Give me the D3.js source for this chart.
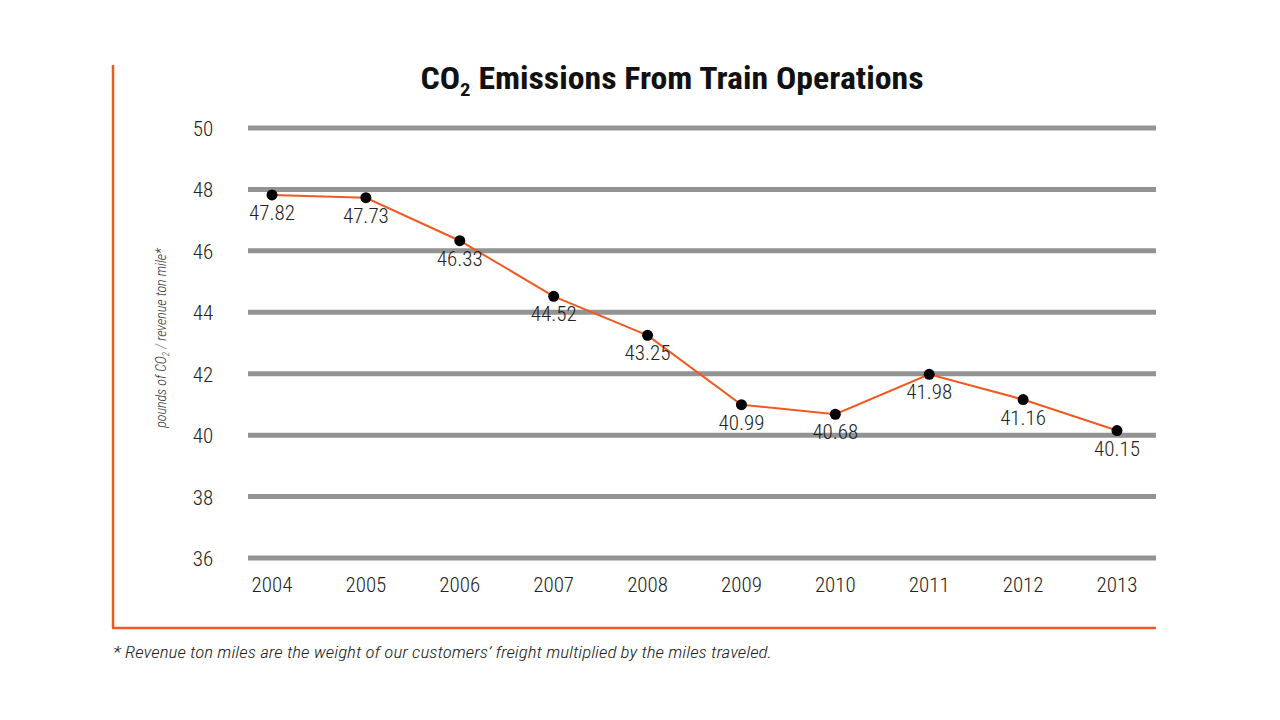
<!DOCTYPE html>
<html><head><meta charset="utf-8">
<script src="https://cdn.jsdelivr.net/npm/d3@7"></script>
<style>body{margin:0;background:#fff}text{font-family:"Liberation Sans Narrow","Roboto Condensed","Liberation Sans",sans-serif}</style>
</head><body><svg id="c" width="1280" height="720"></svg>
<script>
const years=["2004","2005","2006","2007","2008","2009","2010","2011","2012","2013"];
const values=[47.82,47.73,46.33,44.52,43.25,40.99,40.68,41.98,41.16,40.15];
const yTicks=[36,38,40,42,44,46,48,50];
const svg=d3.select("#c");
const x=d3.scalePoint().domain(years).range([272,1117]);
const y=d3.scaleLinear().domain([36,50]).range([558,128]);
const orange="#f05a22";
svg.append("line").attr("x1",113).attr("x2",113).attr("y1",65).attr("y2",628).attr("stroke",orange).attr("stroke-width",2.5);
svg.append("line").attr("x1",112).attr("x2",1156).attr("y1",628).attr("y2",628).attr("stroke",orange).attr("stroke-width",2.5);
const t=svg.append("text").attr("x",672).attr("y",89).attr("text-anchor","middle").attr("font-size",31).attr("font-weight","bold").attr("fill","#111").attr("textLength",503).attr("lengthAdjust","spacingAndGlyphs");
t.append("tspan").text("CO");
t.append("tspan").attr("font-size",19).attr("dy",7).text("2");
t.append("tspan").attr("dy",-7).text(" Emissions From Train Operations");
svg.selectAll(".g").data(yTicks).join("line").attr("x1",248).attr("x2",1156).attr("y1",d=>y(d)).attr("y2",d=>y(d)).attr("stroke","#939393").attr("stroke-width",5);
svg.selectAll(".yl").data(yTicks).join("text").attr("x",203).attr("y",d=>y(d)+8).attr("text-anchor","middle").attr("font-size",21).attr("font-weight",300).attr("fill","#222").text(d=>d);
svg.selectAll(".xl").data(years).join("text").attr("x",d=>x(d)).attr("y",592).attr("text-anchor","middle").attr("font-size",21).attr("font-weight",300).attr("fill","#222").text(d=>d);
const yl=svg.append("text").attr("transform","translate(166,338) rotate(-90)").attr("text-anchor","middle").attr("font-size",14).attr("font-weight",300).attr("font-style","italic").attr("fill","#333");
yl.append("tspan").text("pounds of CO");
yl.append("tspan").attr("font-size",9).attr("dy",3).text("2");
yl.append("tspan").attr("dy",-3).text(" / revenue ton mile*");
const data=years.map((k,i)=>({k,v:values[i]}));
svg.append("path").datum(data).attr("d",d3.line().x(d=>x(d.k)).y(d=>y(d.v))).attr("fill","none").attr("stroke",orange).attr("stroke-width",2);
svg.selectAll(".p").data(data).join("circle").attr("cx",d=>x(d.k)).attr("cy",d=>y(d.v)).attr("r",5.5).attr("fill","#000");
svg.selectAll(".vl").data(data).join("text").attr("x",d=>x(d.k)).attr("y",d=>y(d.v)+25).attr("text-anchor","middle").attr("font-size",21).attr("font-weight",300).attr("fill","#222").text(d=>d.v.toFixed(2));
svg.append("text").attr("x",113).attr("y",658).attr("font-size",16).attr("font-weight",300).attr("font-style","italic").attr("fill","#222").attr("textLength",659).attr("lengthAdjust","spacingAndGlyphs").text("* Revenue ton miles are the weight of our customers’ freight multiplied by the miles traveled.");
</script></body></html>
